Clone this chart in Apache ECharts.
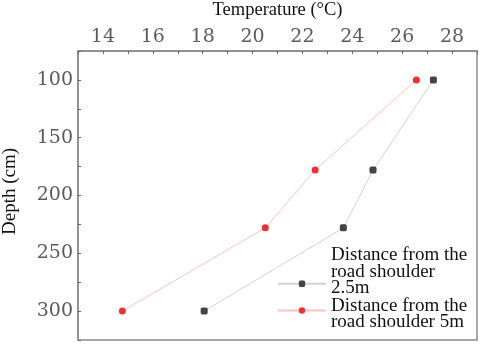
<!DOCTYPE html>
<html>
<head>
<meta charset="utf-8">
<script src="https://cdn.jsdelivr.net/npm/echarts@6/dist/echarts.min.js"></script>
<style>
  html, body { margin: 0; padding: 0; background: #fff; }
  #chart { width: 480px; height: 344px; }
</style>
</head>
<body>
<div id="chart"></div>
<script>
var depths = [100, 178, 228, 300];
var temp25 = [27.25, 24.83, 23.64, 18.06];
var temp5 = [26.57, 22.51, 20.51, 14.78];
var seriesNames = ['Distance from the road shoulder 2.5m', 'Distance from the road shoulder 5m'];
var legendLines1 = ['Distance from the', 'road shoulder', '2.5m'];
var legendLines2 = ['Distance from the', 'road shoulder 5m'];

function pairs(temps) {
    var out = [];
    for (var i = 0; i < temps.length; i++) {
        out.push([temps[i], depths[i]]);
    }
    return out;
}

function richLines(lines) {
    return lines.map(function (s) { return '{a|' + s + '}'; }).join('\n');
}

var serif = '"Liberation Serif", "DejaVu Serif", serif';
var tickFont = '"DejaVu Serif", serif';
var legendRich = {
    a: { fontFamily: serif, fontSize: 19, color: '#111', lineHeight: 16.5 },
    top: { fontSize: 4, lineHeight: 7 },
    bottom: { fontSize: 4, lineHeight: 23.5 }
};

var myChart = echarts.init(document.getElementById('chart'));
var option = {
    backgroundColor: '#fff',
    animation: false,
    grid: {
        left: 78, top: 51, right: 3, bottom: 4,
        outerBoundsMode: 'none',
        show: true,
        borderColor: '#8a8a8a',
        borderWidth: 1.5
    },
    xAxis: {
        type: 'value',
        position: 'top',
        min: 13,
        max: 29,
        interval: 1,
        name: 'Temperature (\u00b0C)',
        nameLocation: 'middle',
        nameGap: 31,
        nameTextStyle: { fontFamily: serif, fontSize: 18.5, color: '#111' },
        axisLine: { show: true, lineStyle: { color: '#8a8a8a', width: 1.5 } },
        axisTick: { show: true, inside: true, length: 3, lineStyle: { color: '#666' } },
        axisLabel: {
            margin: 4,
            fontFamily: tickFont,
            fontSize: 19,
            color: '#5a5a5a',
            formatter: function (v) { return v % 2 === 0 ? v : ''; }
        },
        splitLine: { show: false }
    },
    yAxis: {
        type: 'value',
        inverse: true,
        min: 75,
        max: 325,
        interval: 25,
        name: 'Depth (cm)',
        nameLocation: 'middle',
        nameGap: 58,
        nameTextStyle: { fontFamily: serif, fontSize: 19, color: '#111', padding: [0, 0, 0, 8] },
        axisLine: { show: true, lineStyle: { color: '#8a8a8a', width: 1.5 } },
        axisTick: { show: true, inside: true, length: 3, lineStyle: { color: '#666' } },
        axisLabel: {
            margin: 5,
            fontFamily: tickFont,
            fontSize: 19,
            color: '#5a5a5a',
            formatter: function (v) { return v % 50 === 0 ? v : ''; }
        },
        splitLine: { show: false }
    },
    legend: [{
        orient: 'vertical',
        left: 277,
        top: 246,
        padding: 0,
        itemWidth: 48,
        itemHeight: 8,
        formatter: function () { return richLines(legendLines1) + '\n{bottom| }'; },
        textStyle: { rich: legendRich },
        data: [seriesNames[0]]
    }, {
        orient: 'vertical',
        left: 277,
        top: 292,
        padding: 0,
        itemWidth: 48,
        itemHeight: 8,
        formatter: function () { return '{top| }\n' + richLines(legendLines2); },
        textStyle: { rich: legendRich },
        data: [seriesNames[1]]
    }],
    series: [{
        name: seriesNames[0],
        type: 'line',
        data: pairs(temp25),
        symbol: 'roundRect',
        symbolSize: 7,
        itemStyle: { color: '#444' },
        lineStyle: { color: '#d2d2d2', width: 1 }
    }, {
        name: seriesNames[1],
        type: 'line',
        data: pairs(temp5),
        symbol: 'circle',
        symbolSize: 7,
        itemStyle: { color: '#f03030' },
        lineStyle: { color: '#f8c4c4', width: 1 }
    }]
};
myChart.setOption(option);
</script>
</body>
</html>
